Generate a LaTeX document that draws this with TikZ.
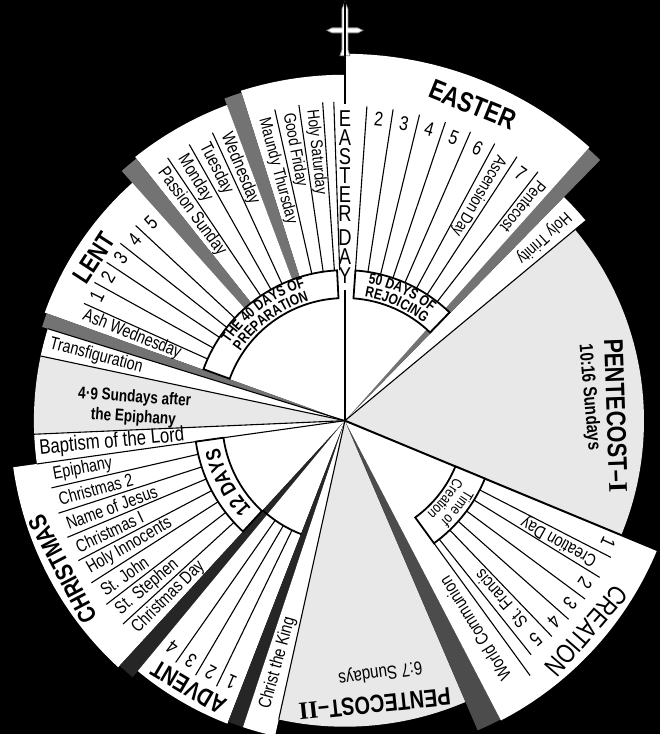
\documentclass[tikz,border=0pt]{standalone}
\usepackage{fontspec}
\setmainfont{Liberation Sans}[FakeStretch=0.8]
\newfontfamily\romanfont{Liberation Serif}
\usetikzlibrary{decorations.text}

\newcommand{\daysize}{\fontsize{9}{10}\selectfont}
\newcommand{\smalldaysize}{\fontsize{8.5}{10}\selectfont}
\newcommand{\numsize}{\fontsize{10}{10}\selectfont}
\newcommand{\seasonsize}{\fontsize{11.5}{12}\selectfont\bfseries}
\newcommand{\ringsize}{\fontsize{7.5}{8}\selectfont\bfseries}

% one card of the wheel: style, first angle, last angle, radius
\newcommand{\cardwedge}[4]{\path[#1] (0,0) -- (#2:#4) arc[start angle=#2, end angle=#3, radius=#4] -- cycle;}
% white ring band: first angle, last angle, inner and outer radius
\newcommand{\ringband}[4]{\path[ringline] (#1:#3) arc[start angle=#1, end angle=#2, radius=#3] -- (#2:#4) arc[start angle=#2, end angle=#1, radius=#4] -- cycle;}
% text set clockwise along a ring
\newcommand{\ringtext}[4]{\path[decorate, decoration={text along path, text align=center, text={|\ringsize|#4}}] (#1:#3) arc[start angle=#1, end angle=#2, radius=#3];}

\begin{document}
\begin{tikzpicture}[x=0.5pt, y=0.5pt,
  card/.style={fill=white},
  season/.style={fill=black!9},
  edge/.style={fill=black!55},
  darkedge/.style={fill=black!85},
  divider/.style={line width=0.55pt},
  ringline/.style={fill=white, draw, line width=0.9pt},
  daytext/.style={anchor=west, inner sep=0pt, font=\daysize},
  numtext/.style={inner sep=0pt, font=\numsize},
  seasontext/.style={inner sep=0pt, font=\seasonsize},
  axisletter/.style={inner sep=0pt, font=\fontsize{11.5}{12}\selectfont}]

  \fill[black] (-346,-314) rectangle (316,422);

  % the cards, counterclockwise from Pentecost I
  \cardwedge{season}{-22.5}{39.7}{300}
  \cardwedge{card}{39.7}{45.6}{314}
  \cardwedge{edge}{45.6}{48.2}{366}
  \cardwedge{card}{48.2}{90}{368}
  \cardwedge{card}{90}{107.5}{347}
  \cardwedge{edge}{107.5}{110.5}{345}
  \cardwedge{card}{110.5}{128.5}{338}
  \cardwedge{edge}{128.5}{131.8}{336}
  \cardwedge{card}{131.8}{160.2}{320}
  \cardwedge{edge}{160.2}{162.8}{318}
  \cardwedge{card}{162.8}{168}{312}
  \cardwedge{season}{168}{182.5}{312}
  \cardwedge{card}{182.5}{188}{312}
  \cardwedge{card}{188}{227.4}{336}
  \cardwedge{darkedge}{227.4}{230.4}{334}
  \cardwedge{card}{230.4}{248.8}{326}
  \cardwedge{darkedge}{248.8}{251.6}{324}
  \cardwedge{card}{251.6}{257.5}{324}
  \cardwedge{season}{257.5}{293.2}{307}
  \cardwedge{fill=black!70}{293.2}{297.5}{338}
  \cardwedge{card}{297.5}{337.5}{339}
  \cardwedge{card}{92}{160}{151}

  \foreach \a/\r in {39.7/314, 162.8/312, 168/312, 182.5/312, 188/312, 257.5/307}
    \draw[divider] (0,0) -- (\a:\r);
  \draw[line width=1pt] (0,0) -- (-22.5:339);

  % the rings
  \ringband{93}{160}{123}{151}
  \ringband{46}{86}{123}{151}
  \ringband{188}{227.4}{123}{151}
  \ringband{-54}{-22.5}{120}{152}
  \draw[line width=0.9pt] (227.4:122) arc[start angle=227.4, end angle=249, radius=122];

  \ringtext{160}{93}{139.5}{THE 40 DAYS OF}
  \ringtext{160}{93}{126}{PREPARATION}
  \ringtext{86}{46}{139.5}{50 DAYS OF}
  \ringtext{86}{46}{126}{REJOICING}
  \path[decorate, decoration={text along path, text align=center, text={|\fontsize{10.5}{10.5}\selectfont\bfseries|12 DAYS}}]
    (227:129) arc[start angle=227, end angle=188.5, radius=129];
  \path[decorate, decoration={text along path, text align=center, text={|\fontsize{7.5}{8}\selectfont|Time of}}]
    (-23:139) arc[start angle=-23, end angle=-53, radius=139];
  \path[decorate, decoration={text along path, text align=center, text={|\fontsize{7.5}{8}\selectfont|Creation}}]
    (-23:124) arc[start angle=-23, end angle=-53, radius=124];

  % column lines
  \foreach \a in {86,81.2,76.3,71.4,66.5,61.6,56.9,52.2}
    \draw[divider] (\a:151) -- (\a:316);
  \foreach \a in {92,94,98.3,102.7}
    \draw[divider] (\a:151) -- (\a:320);
  \foreach \a in {114.7,119.4,124}
    \draw[divider] (\a:151) -- (\a:318);
  \foreach \a in {137,141.7,146.4,151.1,155.8}
    \draw[divider] (\a:151) -- (\a:287);
  \foreach \a in {192.9,197.9,202.8,207.7,212.6,217.6,222.5}
    \draw[divider] (\a:151) -- (\a:302);
  \foreach \a in {235,239.6,244.2}
    \draw[divider] (\a:122) -- (\a:296);
  \foreach \a in {-27.2,-31.6,-36.6,-41.6,-46.2,-51.5}
    \draw[divider] (\a:152) -- (\a:300);
  \draw[divider] (-54:152) -- (-54:316);

  % axis and cross
  \draw[line width=0.8pt] (0,0) -- (0,131);
  \draw[line width=0.8pt] (0,318) -- (0,368);
  \filldraw[fill=white, draw=black!45, line width=0.4pt]
    (0,420) -- (3,413) -- (3,394) -- (13,394) -- (18,391.5) -- (13,389) -- (3,389) -- (3,372)
    -- (5,366) -- (-5,366) -- (-3,372) -- (-3,389) -- (-13,389) -- (-18,391.5) -- (-13,394)
    -- (-3,394) -- (-3,413) -- cycle;
  \draw[line width=0.8pt] (0,366) -- (0,420);

  \foreach \l/\r [count=\i] in {E/303,A/284,S/265,T/246,E/227,R/208,D/184,A/165,Y/146}
    \node[axisletter] (eday\i) at (90:\r) {\l};

  % numbered Sundays
  \foreach \a/\t [count=\i] in {83.6/2,78.75/3,73.85/4,68.95/5,64.05/6,54.55/7}
    \node[numtext, rotate=\a-90] (easter\i) at (\a:304) {\t};
  \foreach \a/\t [count=\i] in {153.45/1,148.75/2,144.05/3,139.35/4,134.4/5}
    \node[numtext, rotate=\a-90] (lent\i) at (\a:278) {\t};
  \foreach \a/\t [count=\i] in {232.7/4,237.3/3,241.9/2,246.5/1}
    \node[numtext, rotate=\a-90] (advent\i) at (\a:286) {\t};
  \foreach \a/\t [count=\i] in {-24.85/1,-34.1/2,-39.1/3,-43.9/4,-48.85/5}
    \node[numtext, rotate=\a-90] (creation\i) at (\a:291) {\t};

  % days, read toward the centre
  \foreach \a/\r/\t/\n in {42.6/305/Holy Trinity/trinity, 50.2/310/Pentecost/pentecost,
      59.25/308/Ascension Day/ascension, 96.1/314/Holy Saturday/holysat,
      100.5/314/Good Friday/goodfri, 105.1/314/Maundy Thursday/maundy}
    \node[daytext, font=\smalldaysize, rotate=\a-180] (\n) at (\a:\r) {\t};
  \foreach \a/\r/\t/\n in {112.6/312/Wednesday/wed, 117.05/312/Tuesday/tue, 121.7/312/Monday/mon,
      126.25/312/Passion Sunday/passion, 158/283/Ash Wednesday/ash,
      165.4/306/Transfiguration/transfig,
      190.45/298/Epiphany/epiphany, 195.4/298/Christmas 2/xmastwo,
      200.35/298/Name of Jesus/jesus, 205.25/298/Christmas I/xmasone,
      210.15/298/Holy Innocents/innocents, 215.1/298/St. John/john,
      220.05/298/St. Stephen/stephen, 224.95/298/Christmas Day/xmasday,
      254.5/300/Christ the King/king, -29.4/289/Creation Day/creationday,
      -48.85/273/St. Francis/francis, -58/306/World Communion/communion}
    \node[daytext, rotate=\a-180] (\n) at (\a:\r) {\t};
  \node[daytext, font=\fontsize{10.5}{11}\selectfont, rotate=5.25] (baptism) at (185.25:308) {Baptism of the Lord};

  % seasons
  \node[seasontext, font=\fontsize{14}{14}\selectfont\bfseries, rotate=-22] (easterlbl) at (68:342) {EASTER};
  \node[seasontext, font=\fontsize{13}{13}\selectfont\bfseries, rotate=57] (lentlbl) at (147:300) {LENT};
  \node[seasontext, font=\fontsize{12.5}{13}\selectfont\bfseries, rotate=117.7] (christmaslbl) at (207.7:320) {CHRISTMAS};
  \node[seasontext, font=\fontsize{12.5}{13}\selectfont\bfseries, rotate=149.3] (adventlbl) at (239.6:310) {ADVENT};
  \node[seasontext, font=\fontsize{12.5}{13}\selectfont\bfseries, rotate=186] (pentiilbl) at (276:286) {PENTECOST–{\romanfont II}};
  \node[seasontext, font=\fontsize{13.5}{14}\selectfont, rotate=-131] (creationlbl) at (-41:321) {CREATION};
  \node[seasontext, font=\fontsize{13.5}{14}\selectfont\bfseries, rotate=-88] (pentilbl) at (1:272) {PENTECOST–{\romanfont I}};
  \node[inner sep=0pt, font=\fontsize{9.5}{10}\selectfont\bfseries, rotate=-85] (pentisun) at (5.5:246) {10:16 Sundays};
  \node[inner sep=0pt, font=\fontsize{9.5}{10}\selectfont, rotate=188] (pentiisun) at (278:255) {6:7 Sundays};
  \node[inner sep=0pt, align=center, font=\fontsize{8.5}{10}\selectfont\bfseries, rotate=-4] (episun) at (176.5:212) {4·9 Sundays after\\the Epiphany};
\end{tikzpicture}
\end{document}
